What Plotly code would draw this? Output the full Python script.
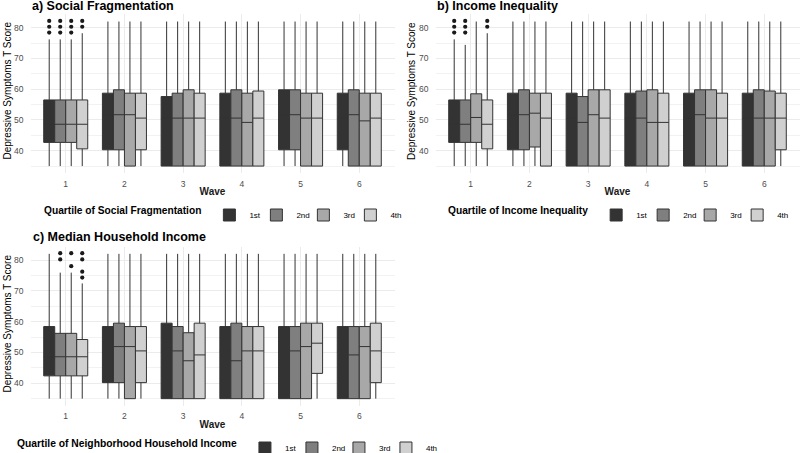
import plotly.graph_objects as go

WAVES = ["1", "2", "3", "4", "5", "6"]
QUARTILES = ["1st", "2nd", "3rd", "4th"]
FILLS = ["#333333", "#7f7f7f", "#a8a8a8", "#d0d0d0"]

# ---------- a) Social Fragmentation (rows = quartile, cols = wave) ----------
SF_Q1 = [[42.7, 40.3, 35.0, 35.0, 40.3, 40.3],
         [42.7, 40.3, 35.0, 35.0, 40.3, 35.0],
         [42.7, 35.0, 35.0, 35.0, 35.0, 35.0],
         [40.6, 40.3, 35.0, 35.0, 35.0, 35.0]]
SF_MED = [[48.6, 51.7, 50.6, 50.6, 51.7, 50.6],
          [48.6, 51.7, 50.6, 50.6, 51.7, 51.7],
          [48.6, 51.7, 50.6, 49.2, 50.6, 49.7],
          [48.6, 50.6, 50.6, 50.6, 50.6, 50.6]]
SF_Q3 = [[56.5, 58.7, 57.6, 58.7, 59.8, 58.7],
         [56.5, 59.8, 58.7, 59.8, 59.8, 59.8],
         [56.5, 58.7, 59.8, 58.7, 58.7, 58.7],
         [56.5, 58.7, 58.7, 59.4, 58.7, 58.7]]
SF_LO = [[35.0] * 6, [35.0] * 6, [35.0] * 6, [35.0] * 6]
SF_HI = [[76.2, 82.0, 82.0, 82.0, 82.0, 82.0],
         [76.2, 82.0, 82.0, 82.0, 82.0, 82.0],
         [76.2, 82.0, 82.0, 82.0, 82.0, 82.0],
         [78.2, 82.0, 82.0, 82.0, 82.0, 82.0]]
SF_OUT_X = [["1", "1", "1"], ["1", "1", "1"], ["1", "1", "1"], ["1", "1"]]
SF_OUT_Y = [[78.4, 80.3, 82.2], [78.4, 80.3, 82.2], [78.4, 80.3, 82.2], [80.3, 82.2]]

# ---------- b) Income Inequality ----------
II_Q1 = [[42.7, 40.3, 35.0, 35.0, 35.0, 35.0],
         [42.7, 40.3, 35.0, 35.0, 35.0, 35.0],
         [42.7, 41.2, 35.0, 35.0, 35.0, 35.0],
         [40.6, 35.0, 35.0, 35.0, 35.0, 40.3]]
II_MED = [[48.6, 51.7, 50.6, 50.6, 50.6, 50.6],
          [48.6, 51.7, 49.2, 50.6, 51.7, 50.6],
          [50.8, 52.2, 51.7, 49.2, 50.6, 50.6],
          [48.6, 50.6, 50.6, 49.2, 50.6, 50.6]]
II_Q3 = [[56.5, 58.7, 58.7, 58.7, 58.7, 58.7],
         [56.5, 59.8, 57.6, 59.4, 59.8, 59.8],
         [58.5, 58.7, 59.8, 59.8, 59.8, 59.4],
         [56.5, 58.7, 59.8, 58.7, 58.7, 58.7]]
II_LO = [[35.0] * 6, [35.0] * 6, [35.0] * 6, [35.0] * 6]
II_HI = [[76.2, 82.0, 82.0, 82.0, 82.0, 82.0],
         [74.4, 82.0, 82.0, 82.0, 82.0, 82.0],
         [82.0, 82.0, 82.0, 82.0, 82.0, 82.0],
         [78.2, 82.0, 82.0, 82.0, 82.0, 82.0]]
II_OUT_X = [["1", "1", "1"], ["1", "1", "1"], ["1"], ["1", "1"]]
II_OUT_Y = [[78.4, 80.3, 82.2], [78.4, 80.3, 82.2], [None], [80.3, 82.2]]

# ---------- c) Median Household Income ----------
MH_Q1 = [[42.4, 40.2, 35.0, 35.0, 35.0, 35.0],
         [42.4, 40.2, 35.0, 35.0, 35.0, 35.0],
         [42.4, 35.0, 35.0, 35.0, 35.0, 35.0],
         [42.4, 40.2, 35.0, 35.0, 43.2, 40.2]]
MH_MED = [[48.6, 51.9, 50.5, 50.5, 50.5, 50.5],
          [48.6, 51.9, 50.5, 47.3, 50.5, 49.2],
          [48.6, 51.9, 47.3, 50.5, 51.9, 51.9],
          [48.6, 50.5, 49.2, 50.5, 53.0, 50.5]]
MH_Q3 = [[58.4, 58.4, 59.5, 58.4, 58.4, 58.4],
         [56.2, 59.5, 58.4, 59.5, 58.4, 58.4],
         [56.2, 58.4, 56.4, 58.4, 59.5, 58.4],
         [54.2, 58.4, 59.5, 58.4, 59.5, 59.5]]
MH_LO = [[35.0] * 6, [35.0] * 6, [35.0] * 6, [35.0] * 6]
MH_HI = [[82.0, 82.0, 82.0, 82.0, 82.0, 82.0],
         [75.9, 82.0, 82.0, 82.0, 82.0, 82.0],
         [75.9, 82.0, 82.0, 82.0, 82.0, 82.0],
         [72.4, 82.0, 82.0, 82.0, 82.0, 82.0]]
MH_OUT_X = [["1"], ["1", "1"], ["1", "1"], ["1", "1", "1", "1"]]
MH_OUT_Y = [[None], [80.2, 82.2], [78.0, 82.2], [74.3, 76.2, 80.2, 82.2]]

PANELS = [
    dict(q1=SF_Q1, med=SF_MED, q3=SF_Q3, lo=SF_LO, hi=SF_HI, ox=SF_OUT_X, oy=SF_OUT_Y,
         title="a) Social Fragmentation", leg_title="Quartile of Social Fragmentation"),
    dict(q1=II_Q1, med=II_MED, q3=II_Q3, lo=II_LO, hi=II_HI, ox=II_OUT_X, oy=II_OUT_Y,
         title="b) Income Inequality", leg_title="Quartile of Income Inequality"),
    dict(q1=MH_Q1, med=MH_MED, q3=MH_Q3, lo=MH_LO, hi=MH_HI, ox=MH_OUT_X, oy=MH_OUT_Y,
         title="c) Median Household Income", leg_title="Quartile of Neighborhood Household Income"),
]
Y_TITLE = "Depressive Symptoms T Score"

FONT = "Liberation Sans, Arial, sans-serif"
W, H = 800, 453


def fx(px):
    return px / W


def fy(py):
    return 1 - py / H


# panel geometry (pixels)
X_DOMAINS = [(30.5, 394.5), (435.5, 799.5), (30.5, 394.5)]
Y_DOMAINS = [(14.3, 173.3), (14.3, 173.3), (246.6, 405.9)]
TITLE_POS = [(30, 6), (435, 6), (31, 237)]
YTITLE_POS = [(6.5, 91), (411, 91), (6.5, 324)]
LEGEND_X = [42, 446, 15]
LEGEND_Y = [215, 215, 448]
LEG_TITLE_SIZE = [10.2, 10.2, 10.3]

fig = go.Figure()

for p_i, p in enumerate(PANELS):
    sfx = "" if p_i == 0 else str(p_i + 1)
    xa, ya = "x" + sfx, "y" + sfx
    leg = "legend" + sfx
    for k, qname in enumerate(QUARTILES):
        fig.add_trace(go.Box(
            x=WAVES, q1=p["q1"][k], median=p["med"][k], q3=p["q3"][k],
            lowerfence=p["lo"][k], upperfence=p["hi"][k],
            name=qname, offsetgroup=qname, legend=leg,
            fillcolor=FILLS[k], line=dict(color="#333333", width=1),
            whiskerwidth=0, boxpoints=False,
            xaxis=xa, yaxis=ya, hoverinfo="skip",
        ))
    for k, qname in enumerate(QUARTILES):
        fig.add_trace(go.Scatter(
            x=p["ox"][k], y=p["oy"][k], mode="markers", offsetgroup=qname,
            marker=dict(color="#1a1a1a", size=4.2), showlegend=False,
            xaxis=xa, yaxis=ya, hoverinfo="skip",
        ))
    # invisible spacer entry so the last legend label is not clipped
    fig.add_trace(go.Scatter(
        x=[None], y=[None], mode="markers", name=" ", legend=leg,
        marker=dict(color="rgba(0,0,0,0)"), showlegend=True,
        xaxis="x4", yaxis="y4", hoverinfo="skip",
    ))

layout = dict(
    width=W, height=H,
    margin=dict(l=0, r=0, t=0, b=0, pad=0, autoexpand=False),
    paper_bgcolor="white", plot_bgcolor="white",
    font=dict(family=FONT, color="#1a1a1a"),
    boxmode="group", boxgap=0.25, boxgroupgap=0,
    scattermode="group", scattergap=0.25,
    annotations=[],
    xaxis4=dict(domain=[0.9, 0.91], visible=False, anchor="y4"),
    yaxis4=dict(domain=[0.2, 0.21], visible=False, anchor="x4"),
)

for p_i, p in enumerate(PANELS):
    sfx = "" if p_i == 0 else str(p_i + 1)
    x0, x1 = X_DOMAINS[p_i]
    yt, yb = Y_DOMAINS[p_i]
    layout["xaxis" + sfx] = dict(
        domain=[fx(x0), fx(x1)], anchor="y" + sfx,
        type="category", categoryorder="array", categoryarray=WAVES,
        range=[-0.6, 5.6], showgrid=True, gridcolor="#ebebeb", gridwidth=1,
        showline=False, zeroline=False, ticks="", ticklabelstandoff=4,
        tickfont=dict(size=8.5, color="#4d4d4d", family=FONT),
        title=dict(text="<b>Wave</b>", font=dict(size=10, color="#1a1a1a", family=FONT), standoff=0),
        automargin=False, fixedrange=True,
    )
    layout["yaxis" + sfx] = dict(
        domain=[fy(yb), fy(yt)], anchor="x" + sfx,
        range=[32.65, 84.35], tickvals=[40, 50, 60, 70, 80],
        showgrid=True, gridcolor="#ebebeb", gridwidth=1,
        minor=dict(tickvals=[35, 45, 55, 65, 75], showgrid=True, gridcolor="#efefef", gridwidth=0.8),
        showline=False, zeroline=False, ticks="", ticklabelstandoff=6,
        tickfont=dict(size=8.5, color="#4d4d4d", family=FONT),
        automargin=False, fixedrange=True,
    )
    tx, ty = TITLE_POS[p_i]
    layout["annotations"].append(dict(
        text="<b>" + p["title"] + "</b>", xref="paper", yref="paper",
        x=fx(tx), y=fy(ty), xanchor="left", yanchor="middle",
        showarrow=False, font=dict(size=12.5, color="#000000", family=FONT),
    ))
    vx, vy = YTITLE_POS[p_i]
    layout["annotations"].append(dict(
        text=Y_TITLE, xref="paper", yref="paper", textangle=-90,
        x=fx(vx), y=fy(vy), xanchor="center", yanchor="middle",
        showarrow=False, font=dict(size=10, color="#000000", family=FONT),
    ))
    layout["legend" + sfx] = dict(
        orientation="h", x=fx(LEGEND_X[p_i]), y=fy(LEGEND_Y[p_i]),
        xanchor="left", yanchor="middle",
        title=dict(text="<b>" + p["leg_title"] + "</b>", side="left",
                   font=dict(size=LEG_TITLE_SIZE[p_i], color="#000000", family=FONT)),
        font=dict(size=8, color="#000000", family=FONT),
        bgcolor="rgba(0,0,0,0)", borderwidth=0, itemwidth=30, entrywidth=2,
        tracegroupgap=0, itemclick=False, itemdoubleclick=False,
    )

fig.update_layout(**layout)
# remove the browser's default 8px page margin so the 800x453 figure fills the window
fig.write_html("out.html",
               config={"displayModeBar": False, "staticPlot": True},
               post_script="document.body.style.margin='0px';document.body.style.overflow='hidden';")
